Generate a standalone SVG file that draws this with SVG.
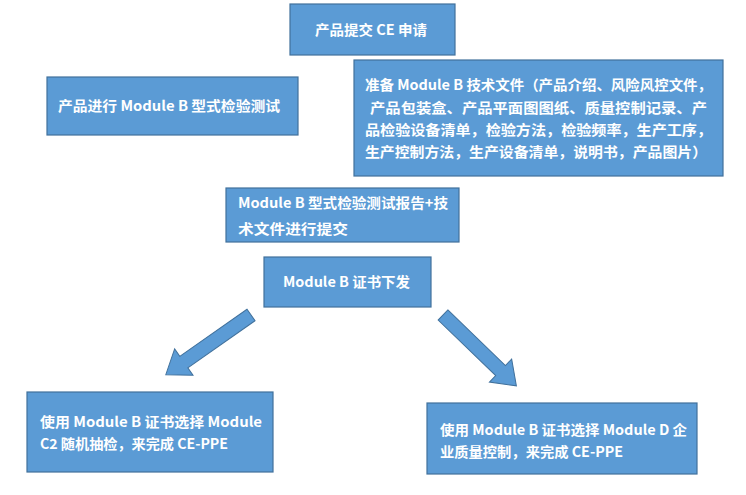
<svg xmlns="http://www.w3.org/2000/svg" width="746" height="495" viewBox="0 0 746 495">
<style>
.box{fill:#5B9BD5;stroke:#41719C;stroke-width:1.2}
.t{fill:#fff;font-family:"Noto Sans CJK SC","Liberation Sans",sans-serif;font-weight:bold;font-size:14px}
.c{text-anchor:middle}
.arrow{fill:#5B9BD5;stroke:#41719C;stroke-width:1}
</style>
<rect width="746" height="495" fill="#fff"/>
<g id="n1"><rect class="box" x="290" y="4" width="165" height="51"/>
<text class="t" x="315" y="35" textLength="112" lengthAdjust="spacingAndGlyphs">产品提交 CE 申请</text></g>
<g id="n2"><rect class="box" x="47" y="77" width="251" height="58"/>
<text class="t" x="58" y="111" textLength="222" lengthAdjust="spacingAndGlyphs">产品进行 Module B 型式检验测试</text></g>
<g id="n3"><rect class="box" x="354" y="60" width="369" height="116"/>
<text class="t" font-size="15" x="365" y="90" textLength="347" lengthAdjust="spacingAndGlyphs">准备 Module B 技术文件（产品介绍、风险风控文件，</text>
<text class="t" font-size="15" x="370" y="113" textLength="337" lengthAdjust="spacingAndGlyphs">产品包装盒、产品平面图图纸、质量控制记录、产</text>
<text class="t" font-size="15" x="365" y="135" textLength="347" lengthAdjust="spacingAndGlyphs">品检验设备清单，检验方法，检验频率，生产工序，</text>
<text class="t" font-size="15" x="365" y="157" textLength="342" lengthAdjust="spacingAndGlyphs">生产控制方法，生产设备清单，说明书，产品图片）</text></g>
<g id="n4"><rect class="box" x="226" y="188" width="233" height="54"/>
<text class="t" x="238" y="208" textLength="210" lengthAdjust="spacingAndGlyphs">Module B 型式检验测试报告+技</text>
<text class="t" x="238" y="234" textLength="110" lengthAdjust="spacingAndGlyphs">术文件进行提交</text></g>
<g id="n5"><rect class="box" x="264" y="257" width="167" height="50"/>
<text class="t" x="283" y="287" textLength="127" lengthAdjust="spacingAndGlyphs">Module B 证书下发</text></g>
<g id="n6"><rect class="box" x="27" y="392" width="246" height="80"/>
<text class="t" x="40" y="427" textLength="222" lengthAdjust="spacingAndGlyphs">使用 Module B  证书选择 Module</text>
<text class="t" x="40" y="449" textLength="188" lengthAdjust="spacingAndGlyphs">C2 随机抽检，来完成 CE-PPE</text></g>
<g id="n7"><rect class="box" x="427" y="403" width="270" height="71"/>
<text class="t" x="440" y="435" textLength="247" lengthAdjust="spacingAndGlyphs">使用 Module B 证书选择 Module D 企</text>
<text class="t" x="440" y="457" textLength="183" lengthAdjust="spacingAndGlyphs">业质量控制，来完成 CE-PPE</text></g>
<g id="connectors">
<polygon class="arrow" transform="translate(251,315) rotate(145)" points="0,-7 82,-7 82,-16 104,0 82,16 82,7 0,7"/>
<polygon class="arrow" transform="translate(443,315) rotate(44)" points="0,-7 80,-7 80,-16 102,0 80,16 80,7 0,7"/>
</g>
</svg>
